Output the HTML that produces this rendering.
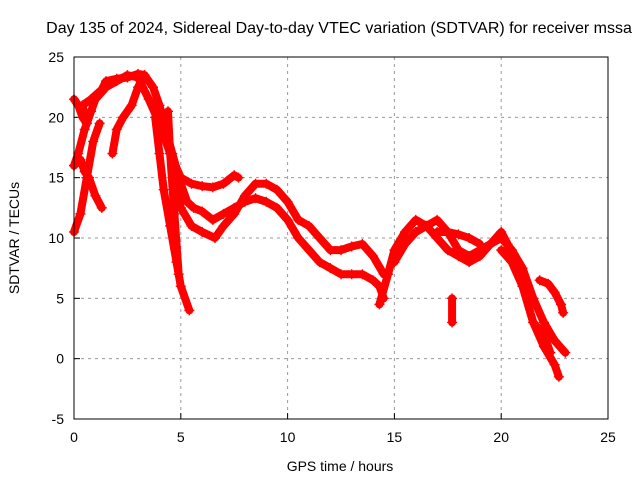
<!DOCTYPE html>
<html><head><meta charset="utf-8"><style>
body{margin:0;background:#fff;}
svg{display:block;font-family:"Liberation Sans",sans-serif;}
</style></head><body>
<svg id="chart" width="640" height="480"></svg>
<script>
const xTicks=[0,5,10,15,20,25];
const yTicks=[-5,0,5,10,15,20,25];
const trackA=[[0,16],[0.2,17],[0.5,19],[0.8,20.5],[1,21.5],[1.5,22.5],[2,23],[2.5,23.5],[3,23.3],[3.5,21.5],[4,19.5],[4.5,17],[5,15],[5.5,14.5],[6,14.3],[6.5,14.2],[7,14.5],[7.5,15.2],[7.7,15]];
const trackB=[[0,21.5],[0.2,21],[0.4,20],[0.6,19.5],[0.4,21],[0.8,21.5],[1.3,22.3],[1.5,23],[2,23.2],[2.5,23.3],[3,23.6],[3.3,23.5]];
const trackC=[[0,16],[0.3,16.5],[0.5,15.5],[0.7,15],[1,13.5],[1.3,12.5]];
const trackD=[[0,10.5],[0.3,12],[0.6,15],[0.9,18],[1.2,19.5]];
const trackE=[[1.8,17],[2,19],[2.3,20],[2.7,21],[3,22.5],[3.3,23.5],[3.7,22.5],[4,21],[4.3,19],[4.6,17],[5,14.5],[5.3,13],[5.6,12.5],[6,12.2],[6.5,11.5],[7,12],[7.5,12.5],[8,13],[8.5,13.3],[9,13],[9.5,12.5],[10,11.5],[10.5,10],[11,9],[11.5,8],[12,7.5],[12.5,7],[13,7],[13.5,7],[14,6.5],[14.3,6],[14.5,5]];
const trackF=[[3.8,20],[4,17],[4.2,14],[4.5,11],[4.8,8],[5,6],[5.4,4]];
const trackG=[[4.4,20.5],[4.5,17],[4.7,12],[4.9,7]];
const trackH=[[4.6,16],[5,12.5],[5.5,11],[6,10.5],[6.6,10],[7,11],[7.5,12],[8,13.5],[8.5,14.5],[9,14.5],[9.5,14],[10,13],[10.5,11.5],[11,11],[11.5,10],[12,9],[12.5,9],[13,9.3],[13.5,9.5],[14,8.5],[14.5,7]];
const trackI=[[14.3,4.5],[14.7,7],[15,9],[15.5,10.5],[16,11.5],[16.5,11],[17,10],[17.5,9],[18,8.5],[18.5,8],[19,8.5],[19.5,9.5],[20,10.5],[20.3,9.5],[20.5,8],[21,6],[21.5,3],[22,1],[22.5,-0.5],[22.7,-1.5]];
const trackJ=[[15,8],[15.5,9.5],[16,10.5],[16.5,11],[17,11.5],[17.5,10.5],[18,9],[18.5,8.5],[19,9],[19.5,9.5],[20,10],[20.5,9],[21,7.5],[21.5,5],[22,3],[22.5,1.5],[23,0.5]];
const trackK=[[17,10.5],[17.5,10.5],[18,10.3],[18.5,10],[19,9.5]];
const trackL=[[20,9],[20.5,8],[21,6],[21.5,3],[22,2],[22.3,0.5]];
const trackM=[[21.8,6.5],[22.2,6.2],[22.5,5.5],[22.8,4.5],[22.9,3.8]];
const trackN=[[17.7,5],[17.7,3]];
const tracks=[trackA,trackB,trackC,trackD,trackE,trackF,trackG,trackH,trackI,trackJ,trackK,trackL,trackM,trackN];

const L=74,R=608,T=57,B=419;
const xs=v=>L+(v-0)/25*(R-L);
const ys=v=>B-(v+5)/30*(B-T);
const svg=document.getElementById('chart');
const NS='http://www.w3.org/2000/svg';
function mk(tag,attrs){const e=document.createElementNS(NS,tag);for(const k in attrs)e.setAttribute(k,attrs[k]);svg.appendChild(e);return e;}

xTicks.forEach(v=>{
  const x=xs(v);
  if(v>0&&v<25){const g=mk('line',{x1:x,y1:T,x2:x,y2:B,stroke:'#999','stroke-dasharray':'3,4'});
  
  }
  const t=mk('text',{x:x,y:B+23,'text-anchor':'middle','font-size':14});
  t.textContent=v;
  
  
  const tk=mk('line',{x1:x,y1:B,x2:x,y2:B-6,stroke:'#000'});
  
  
});
yTicks.forEach(v=>{
  const y=ys(v);
  if(v>-5&&v<25){const g=mk('line',{x1:L,y1:y,x2:R,y2:y,stroke:'#999','stroke-dasharray':'3,4'});
  
  }
  const t=mk('text',{x:L-10,y:y+5,'text-anchor':'end','font-size':14});
  t.textContent=v;
  
  
  const tk=mk('line',{x1:L,y1:y,x2:L+6,y2:y,stroke:'#000'});
  
  
});

tracks.forEach(tr=>{
  const pts=tr.map(p=>xs(p[0])+','+ys(p[1])).join(' ');
  const pl=mk('polyline',{points:pts,fill:'none',stroke:'#f00','stroke-width':8,'stroke-linejoin':'round','stroke-linecap':'round'});
  
  
  tr.forEach(p=>{
    const x=xs(p[0]),y=ys(p[1]);
    const m=mk('path',{d:`M${x-5},${y}H${x+5}M${x},${y-5}V${y+5}`,stroke:'#f00','stroke-width':1.4});
    
    
  });
});

const fr=mk('rect',{x:L,y:T,width:R-L,height:B-T,fill:'none',stroke:'#000','stroke-width':1});


const title=mk('text',{x:339,y:33,'text-anchor':'middle','font-size':16});
title.textContent='Day 135 of 2024, Sidereal Day-to-day VTEC variation (SDTVAR) for receiver mssa';


const xl=mk('text',{x:340,y:471,'text-anchor':'middle','font-size':14});
xl.textContent='GPS time / hours';


const yl=mk('text',{x:0,y:0,'text-anchor':'middle','font-size':14,transform:'translate(19,238) rotate(-90)'});
yl.textContent='SDTVAR / TECUs';


</script>
</body></html>
